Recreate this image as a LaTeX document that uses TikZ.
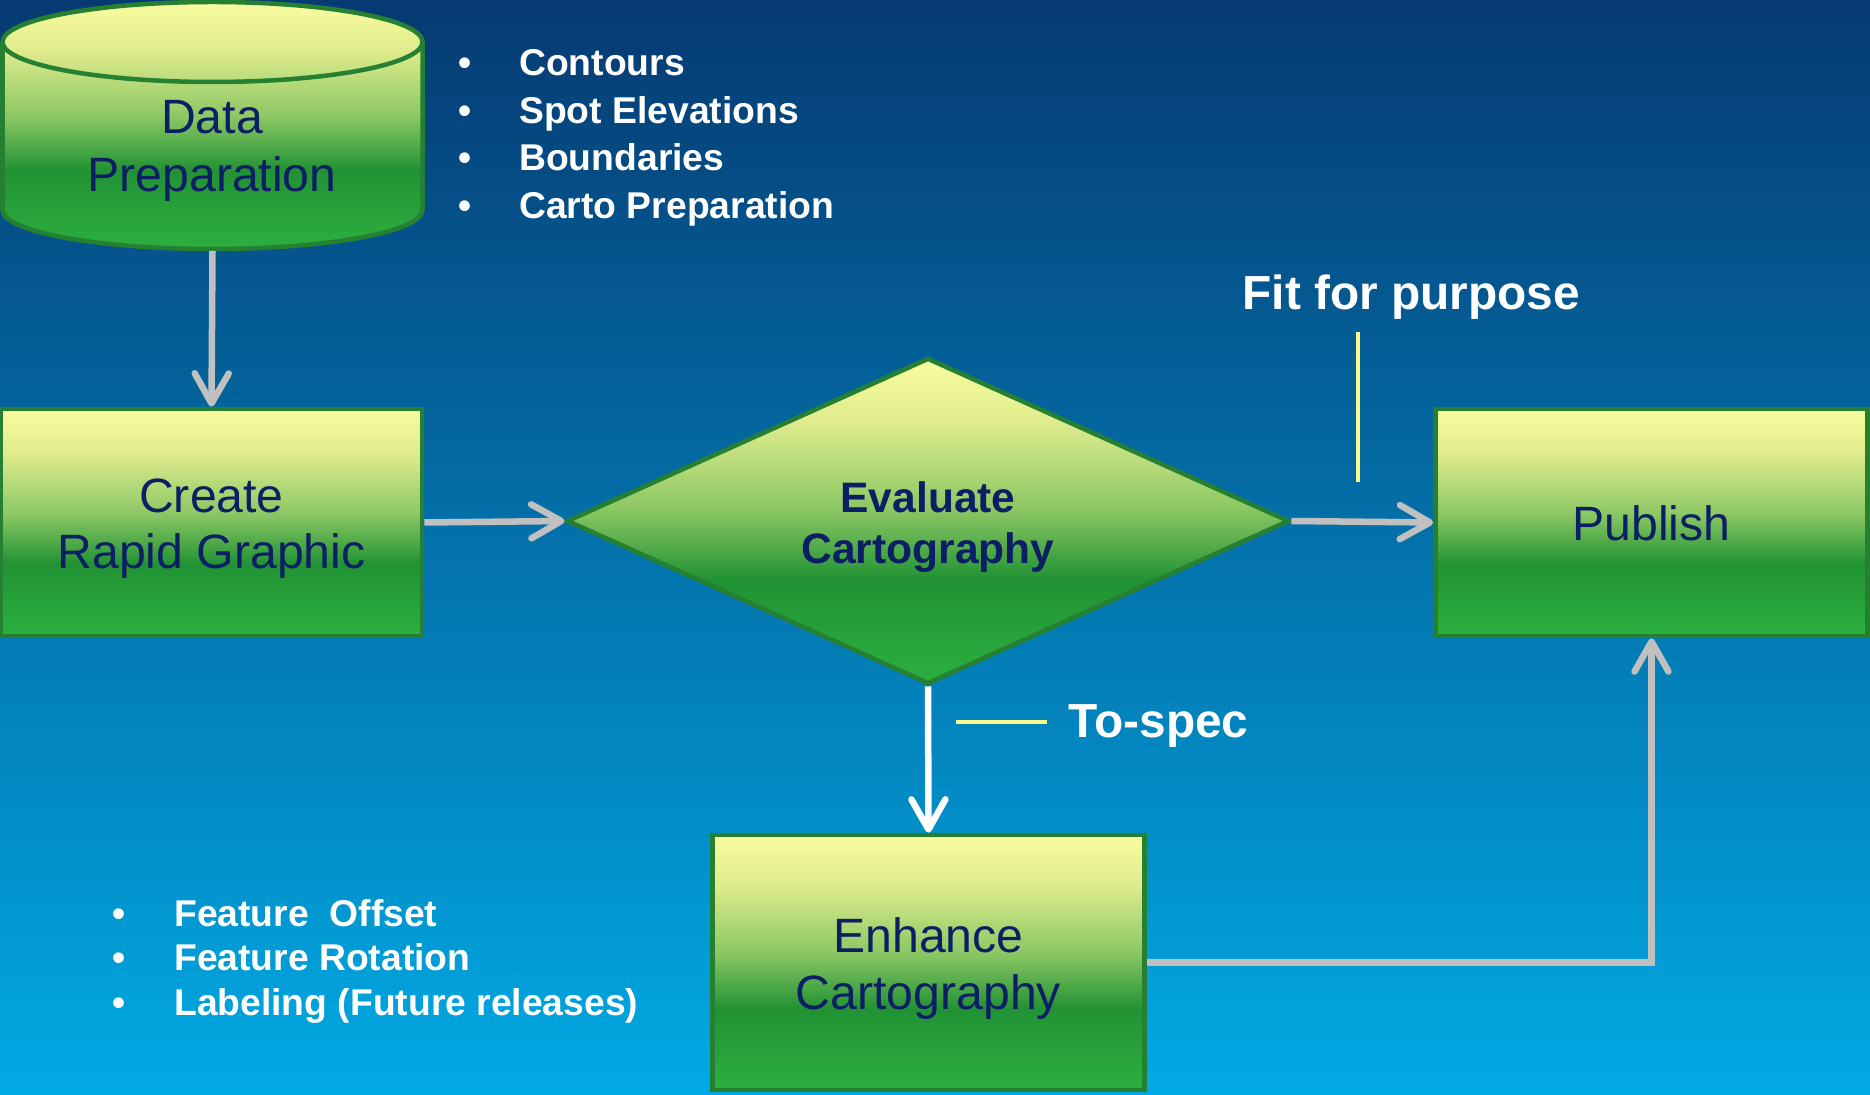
\documentclass[tikz,border=0pt]{standalone}
\usepackage{fontspec}
\setmainfont{Liberation Sans}
\usetikzlibrary{shapes.geometric,arrows.meta}

\definecolor{bgtop}{RGB}{6,58,114}
\definecolor{bgmid}{RGB}{2,106,174}
\definecolor{bgbot}{RGB}{1,170,228}
\definecolor{gtop}{RGB}{250,252,158}
\definecolor{glight}{RGB}{222,235,140}
\definecolor{gmid}{RGB}{140,200,100}
\definecolor{gdark}{RGB}{34,146,52}
\definecolor{gbot}{RGB}{43,176,63}
\definecolor{gline}{RGB}{38,128,50}
\definecolor{navytext}{RGB}{12,30,100}
\definecolor{arrowgrey}{RGB}{192,192,192}
\definecolor{calloutyellow}{RGB}{250,250,140}

\pgfdeclareverticalshading{greenfill}{100bp}{color(0bp)=(gbot); color(25bp)=(gbot); color(41bp)=(gdark); color(52bp)=(gmid); color(65bp)=(glight); color(75bp)=(gtop); color(100bp)=(gtop)}

\tikzset{
	stepbox/.style={rectangle, draw=gline, line width=0.045cm, shading=greenfill, inner sep=0},
	boxtext/.style={text=navytext, align=center, inner sep=0, font=\fontsize{13.7}{16}\selectfont},
	decision/.style={diamond, draw=gline, line width=0.045cm, shading=greenfill, inner sep=0, aspect=2.2, minimum width=7.22cm, minimum height=3.26cm},
	decisiontext/.style={text=navytext, align=center, inner sep=0, font=\bfseries\fontsize{12.1}{14.5}\selectfont},
	greyarrow/.style={draw=arrowgrey, line width=0.065cm, -{Straight Barb[length=0.3cm, width=0.34cm, round]}},
	whitearrow/.style={draw=white, line width=0.065cm, -{Straight Barb[length=0.3cm, width=0.34cm, round]}},
	callout/.style={draw=calloutyellow, line width=0.045cm},
	calloutlabel/.style={text=white, inner sep=0, font=\bfseries\fontsize{13.6}{16}\selectfont},
	listitem/.style={text=white, inner sep=0, anchor=base west, font=\bfseries\fontsize{10.6}{12.8}\selectfont}
}

\begin{document}
\begin{tikzpicture}[x=0.01cm, y=0.01cm]
	\useasboundingbox (0,0) rectangle (1870,-1095);
	\shade[top color=bgtop, middle color=bgmid, bottom color=bgbot] (0,0) rectangle (1870,-1095);

	% data store
	\shadedraw[shading=greenfill, draw=gline, line width=0.045cm] (2.5,-42) -- (2.5,-210) arc[start angle=180, end angle=360, x radius=210, y radius=39] -- (422.5,-42) arc[start angle=0, end angle=180, x radius=210, y radius=40] -- cycle;
	\draw[gline, line width=0.045cm] (2.5,-42) arc[start angle=180, end angle=360, x radius=210, y radius=40];
	\node[boxtext, font=\fontsize{13.7}{16.6}\selectfont] (prep) at (212,-151) {Data\\Preparation};
	\coordinate (prepbot) at (212.5,-251);

	\node[stepbox, minimum width=4.21cm, minimum height=2.27cm, label={[boxtext, yshift=-0.06cm]center:{Create\\Rapid Graphic}}] (create) at (211.5,-522.5) {};
	\node[decision, label={[decisiontext, yshift=-0.065cm]center:{Evaluate\\Cartography}}] (evaluate) at (928,-521) {};
	\node[stepbox, minimum width=4.32cm, minimum height=2.27cm, label={[boxtext, yshift=-0.01cm]center:{Publish}}] (publish) at (1651.5,-522.5) {};
	\node[stepbox, minimum width=4.32cm, minimum height=2.55cm, label={[boxtext, yshift=-0.06cm]center:{Enhance\\Cartography}}] (enhance) at (928.5,-962.5) {};

	\draw[greyarrow] (prepbot) -- (create.north);
	\draw[greyarrow] (create.east) -- (evaluate.west);
	\draw[greyarrow] (evaluate.east) -- (publish.west);
	\draw[whitearrow] (evaluate.south) -- (enhance.north);
	\draw[greyarrow] (enhance.east) -| (publish.south);

	\node[calloutlabel, anchor=west] (fit) at (1242,-297.5) {Fit for purpose};
	\coordinate (fittop) at (1358,-332);
	\coordinate (fitbot) at (1358,-482);
	\draw[callout] (fittop) -- (fitbot);

	\node[calloutlabel, anchor=west] (tospec) at (1068,-726.5) {To-spec};
	\coordinate (specleft) at (956,-722);
	\coordinate (specright) at (1047,-722);
	\draw[callout] (specleft) -- (specright);

	\node[listitem] (contours) at (458,-76) {\textbullet\hspace{0.475cm}Contours};
	\node[listitem] (spots) at (458,-124) {\textbullet\hspace{0.475cm}Spot Elevations};
	\node[listitem] (bounds) at (458,-171) {\textbullet\hspace{0.475cm}Boundaries};
	\node[listitem] (cartoprep) at (458,-219) {\textbullet\hspace{0.475cm}Carto Preparation};

	\node[listitem] (offset) at (112,-926) {\textbullet\hspace{0.485cm}Feature\ \ Offset};
	\node[listitem] (rotation) at (112,-970) {\textbullet\hspace{0.485cm}Feature Rotation};
	\node[listitem] (labeling) at (112,-1015) {\textbullet\hspace{0.485cm}Labeling (Future releases)};
\end{tikzpicture}
\end{document}
